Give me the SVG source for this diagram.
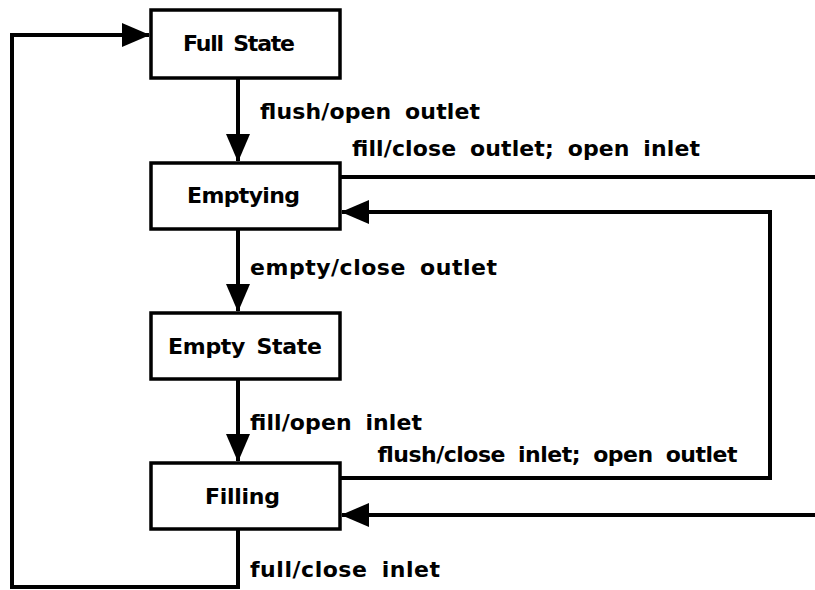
<svg xmlns="http://www.w3.org/2000/svg" width="815" height="590" viewBox="0 0 815 590">
  <style>
    .box { fill: #fff; stroke: #000; stroke-width: 3.5; }
    .name { font-family: "DejaVu Sans", "Liberation Sans", sans-serif; font-weight: bold; font-size: 22px; fill: #000; word-spacing: 4px; }
    .lbl { font-family: "DejaVu Sans", "Liberation Sans", sans-serif; font-weight: bold; font-size: 22px; fill: #000; word-spacing: 6px; }
    .wire { fill: none; stroke: #000; stroke-width: 4; stroke-linejoin: miter; }
  </style>
  <defs>
    <marker id="head" viewBox="0 0 28 24" refX="27" refY="12" markerWidth="28" markerHeight="24" markerUnits="userSpaceOnUse" orient="auto">
      <path d="M0,0 L28,12 L0,24 Z" fill="#000"/>
    </marker>
  </defs>
  <rect width="815" height="590" fill="#fff"/>

  <!-- transitions -->
  <g id="connectors">
    <path class="wire" d="M238,78 V161" marker-end="url(#head)"/>
    <path class="wire" d="M238,229 V311" marker-end="url(#head)"/>
    <path class="wire" d="M238,379 V461" marker-end="url(#head)"/>
    <path class="wire" d="M238,529 V587 H12 V35 H149" marker-end="url(#head)"/>
    <path class="wire" d="M340,177 H815"/>
    <path class="wire" d="M340,478 H770 V212 H342" marker-end="url(#head)"/>
    <path class="wire" d="M815,515 H342" marker-end="url(#head)"/>

    <text class="lbl" x="260" y="119" textLength="220" lengthAdjust="spacing">flush/open outlet</text>
    <text class="lbl" x="352" y="156" textLength="348" lengthAdjust="spacing">fill/close outlet; open inlet</text>
    <text class="lbl" x="250" y="275" textLength="247" lengthAdjust="spacing">empty/close outlet</text>
    <text class="lbl" x="250" y="430" textLength="172" lengthAdjust="spacing">fill/open inlet</text>
    <text class="lbl" x="377" y="462" textLength="360" lengthAdjust="spacing">flush/close inlet; open outlet</text>
    <text class="lbl" x="250" y="577" textLength="190" lengthAdjust="spacing">full/close inlet</text>
  </g>

  <g id="full-state">
    <rect class="box" x="151" y="10" width="189" height="68"/>
    <text class="name" x="183" y="51" textLength="112" lengthAdjust="spacing">Full State</text>
  </g>
  <g id="emptying">
    <rect class="box" x="151" y="163" width="189" height="66"/>
    <text class="name" x="187" y="203" textLength="113" lengthAdjust="spacing">Emptying</text>
  </g>
  <g id="empty-state">
    <rect class="box" x="151" y="313" width="189" height="66"/>
    <text class="name" x="168" y="354" textLength="154" lengthAdjust="spacing">Empty State</text>
  </g>
  <g id="filling">
    <rect class="box" x="151" y="463" width="189" height="66"/>
    <text class="name" x="205" y="504" textLength="75" lengthAdjust="spacing">Filling</text>
  </g>
</svg>
